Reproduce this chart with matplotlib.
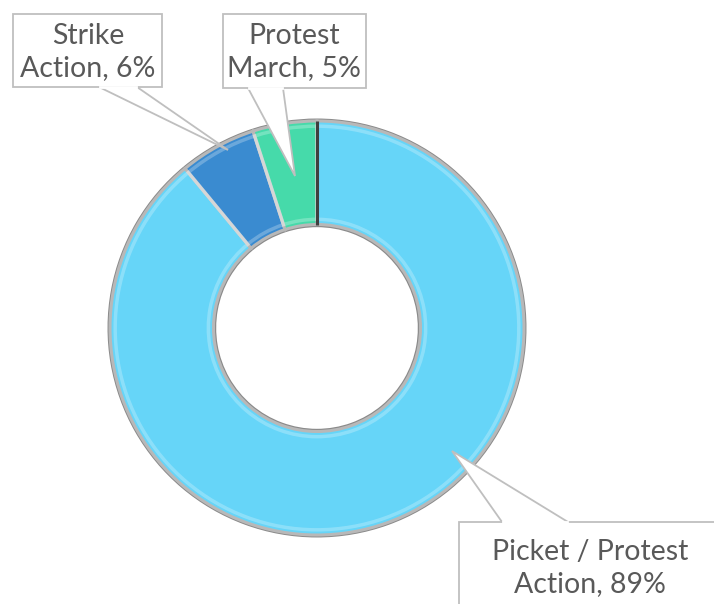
import matplotlib
matplotlib.use("Agg")
import matplotlib.pyplot as plt
import numpy as np
from matplotlib.patches import Polygon, Rectangle

categories = ["Picket / Protest\nAction", "Strike\nAction", "Protest\nMarch"]
values = [89, 6, 5]
colors = ["#66D5F8", "#3A8BD0", "#46DAAA"]
pct_labels = ["89%", "6%", "5%"]

W, H = 714, 604
fig = plt.figure(figsize=(W / 100, H / 100), dpi=100)
fig.patch.set_facecolor("white")

cx, cy, R = 317, 328, 207
ax = fig.add_axes([(cx - R) / W, (H - (cy + R)) / H, 2 * R / W, 2 * R / H])
ax.axis("off")

# shadow ring
ax.pie(values, radius=1.012, startangle=90, counterclock=False,
       colors=["#8a8a8a"] * 3, wedgeprops=dict(width=0.525, edgecolor="none"))
wedges, _ = ax.pie(values, radius=1.0, startangle=90, counterclock=False,
                   colors=colors,
                   wedgeprops=dict(width=0.5, edgecolor="#b8b8b8", linewidth=2.2))
# subtle highlight rims
ax.pie(values, radius=0.975, startangle=90, counterclock=False,
       colors=["none"] * 3,
       wedgeprops=dict(width=0.45, edgecolor=(1, 1, 1, 0.25), linewidth=2.5))
# dark edge at the start of the first slice (12 o'clock)
th = np.deg2rad(wedges[0].theta2)
ax.plot([0.5 * np.cos(th), 1.0 * np.cos(th)], [0.5 * np.sin(th), 1.0 * np.sin(th)],
        color="#3f3f3f", linewidth=2.2, solid_capstyle="butt", zorder=5)
ax.set_xlim(-1.0, 1.0)
ax.set_ylim(-1.0, 1.0)
ax.set_aspect("equal")

# overlay for callouts in pixel coordinates
ov = fig.add_axes([0, 0, 1, 1])
ov.set_xlim(0, W)
ov.set_ylim(H, 0)
ov.axis("off")

text_color = "#595959"
box_ec = "#bfbfbf"
font = dict(family=["Lato", "DejaVu Sans"], fontsize=20.5, color=text_color)

def callout(box, base1, base2, tip, text, tx, ty):
    x0, y0, x1, y1 = box
    ov.add_patch(Rectangle((x0, y0), x1 - x0, y1 - y0, facecolor="white",
                           edgecolor=box_ec, linewidth=1.3, zorder=3))
    ov.add_patch(Polygon([base1, tip, base2], closed=False, facecolor="white",
                         edgecolor=box_ec, linewidth=1.3, zorder=4))
    ov.plot([base1[0] + 1, base2[0] - 1], [base1[1], base2[1]], color="white",
            linewidth=2, zorder=5)
    ov.text(tx, ty, text, ha="center", va="center", linespacing=1.25, zorder=6, **font)

lbl = [c + ", " + p for c, p in zip(categories, pct_labels)]

callout((13, 14, 162, 87), (99, 87), (137, 87), (228, 150), lbl[1], 88, 52)
callout((223, 14, 366, 88), (248, 88), (283, 88), (295, 176), lbl[2], 294, 52)
callout((459, 522, 730, 620), (502, 522), (568, 522), (452, 451), lbl[0], 590, 568)

fig.savefig("out.png", dpi=100, facecolor="white")
